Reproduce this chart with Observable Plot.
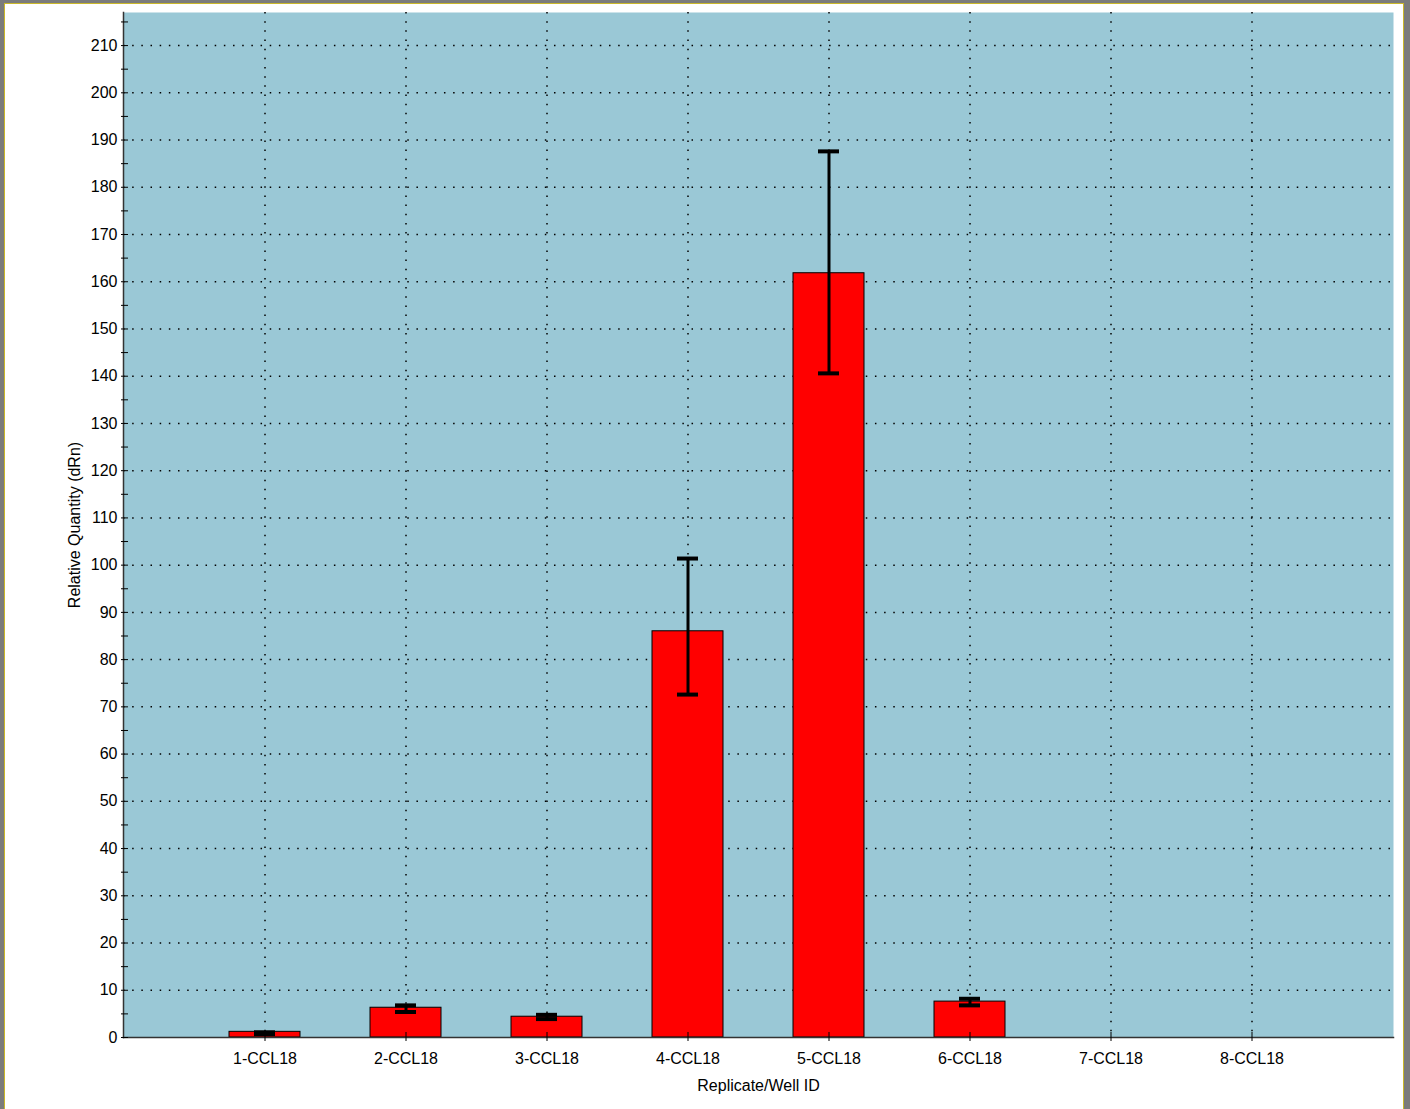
<!DOCTYPE html>
<html><head><meta charset="utf-8">
<script src="https://cdn.jsdelivr.net/npm/d3@7"></script>
<script src="https://cdn.jsdelivr.net/npm/@observablehq/plot@0.6"></script>
<style>
html,body{margin:0;padding:0;background:#7b7b7b;width:1410px;height:1109px;overflow:hidden}
#frame{position:absolute;left:4px;top:3px;width:1398px;height:1200px;background:#fff;border:1px solid #c9b72a}
#chart{position:absolute;left:0;top:0}
</style></head><body>
<div id="frame"></div>
<div id="chart"></div>
<script>
const categories = ["1-CCL18","2-CCL18","3-CCL18","4-CCL18","5-CCL18","6-CCL18","7-CCL18","8-CCL18"];
const values  = [1.2, 6.3, 4.4, 86.0, 161.8, 7.6, null, null];
const errLow  = [0.7, 5.4, 3.9, 72.6, 140.6, 6.8, null, null];
const errHigh = [1.1, 6.8, 4.8, 101.4, 187.6, 8.2, null, null];
const yMajorTicks = [0,10,20,30,40,50,60,70,80,90,100,110,120,130,140,150,160,170,180,190,200,210];
const yMinorTicks = [0,5,10,15,20,25,30,35,40,45,50,55,60,65,70,75,80,85,90,95,100,105,110,115,120,125,130,135,140,145,150,155,160,165,170,175,180,185,190,195,200,205,210,215];
const xTitle = "Replicate/Well ID";
const yTitle = "Relative Quantity (dRn)";

const data = categories.map((c, i) => ({cat: c, value: values[i], lo: errLow[i], hi: errHigh[i]}));
const bars = data.filter(d => d.value != null);
const dots = "1.5,7.67";

const plot = Plot.plot({
  width: 1410, height: 1109,
  marginLeft: 123, marginRight: 17, marginTop: 12, marginBottom: 72,
  style: {background: "transparent", fontFamily: "'Liberation Sans', Arial, sans-serif", fontSize: "16px", color: "#000"},
  x: {type: "band", domain: categories, paddingInner: 0.5, paddingOuter: 0.75, label: null},
  y: {domain: [0, 217], label: null},
  marks: [
    Plot.frame({fill: "#9AC8D6", stroke: null}),
    Plot.ruleY(yMajorTicks.filter(d => d > 0), {stroke: "#000", strokeWidth: 1.5, strokeDasharray: dots}),
    Plot.ruleX(categories, {x: d => d, stroke: "#000", strokeWidth: 1.5, strokeDasharray: dots}),
    Plot.barY(bars, {x: "cat", y: "value", fill: "#FF0000", stroke: "#000", strokeWidth: 1}),
    Plot.ruleX(bars, {x: "cat", y1: "lo", y2: "hi", stroke: "#000", strokeWidth: 3}),
    Plot.tickY(bars, {x: "cat", y: "lo", stroke: "#000", strokeWidth: 4, insetLeft: 25, insetRight: 25}),
    Plot.tickY(bars, {x: "cat", y: "hi", stroke: "#000", strokeWidth: 4, insetLeft: 25, insetRight: 25}),
    Plot.frame({anchor: "left", stroke: "#333", strokeWidth: 1.5}),
    Plot.frame({anchor: "bottom", stroke: "#333", strokeWidth: 1.5}),
    Plot.axisY(yMinorTicks, {tickSize: 7, dx: 5, tickFormat: () => "", label: null, stroke: "#000"}),
    Plot.axisY(yMajorTicks, {tickSize: 0, tickPadding: 6, label: null, fill: "#000"}),
    Plot.axisX({tickSize: 9, dy: -5, tickFormat: () => "", label: null, stroke: "#000"}),
    Plot.axisX({tickSize: 0, tickPadding: 15, label: null, fill: "#000"}),
    Plot.text([xTitle], {frameAnchor: "bottom", dy: 48, textAnchor: "middle", lineAnchor: "middle", fontSize: 16, fill: "#000"}),
    Plot.text([yTitle], {frameAnchor: "left", dx: -49, rotate: -90, textAnchor: "middle", lineAnchor: "middle", fontSize: 16, fill: "#000"})
  ]
});
document.getElementById("chart").appendChild(plot);
</script>
</body></html>
